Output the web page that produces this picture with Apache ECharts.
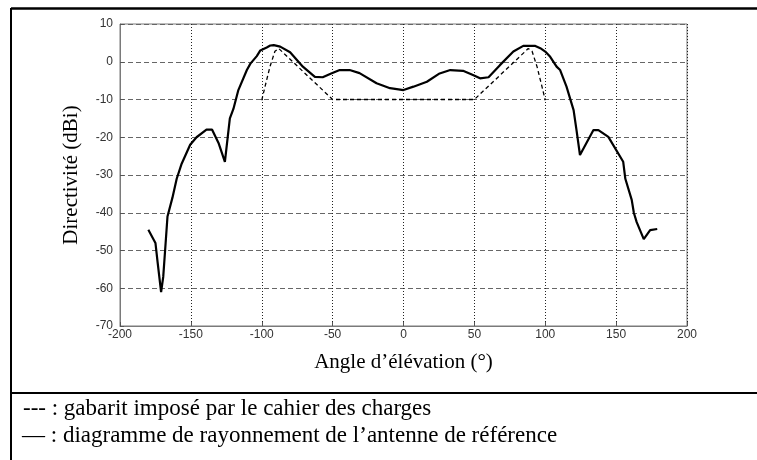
<!DOCTYPE html>
<html>
<head>
<meta charset="utf-8">
<script src="https://cdn.jsdelivr.net/npm/echarts@6/dist/echarts.min.js"></script>
<style>
  html, body { margin: 0; padding: 0; background: #fff; }
  #chart { width: 757px; height: 460px; }
</style>
</head>
<body>
<div id="chart"></div>
<script>
// diagramme de rayonnement (trait plein)
var angles = [-180, -175, -173.5, -171, -169.5, -168, -166.5, -163, -160, -156.5, -150.5, -146, -139, -135,
  -130.5, -126, -122.5, -120, -116.5, -110.5, -108, -103.5, -101, -96.5, -94, -91.5, -87, -80, -71,
  -62.5, -57, -51, -45, -38, -31, -19, -9.5, 0, 7, 16.5, 25.5, 33, 42, 49, 54, 60, 68, 77.5, 84.5,
  93, 96.5, 100, 103.5, 108, 110.5, 115, 120, 122, 124.5, 134, 137.5, 144.5, 155, 156.5, 161, 162.5,
  164.5, 169.5, 174, 179]
var directivite = [-44.5, -48, -53, -61, -57, -49, -41, -36, -31, -27, -22, -20, -18, -18,
  -21.5, -26.5, -15, -12.5, -7.5, -2.2, -0.5, 1.5, 3, 3.8, 4.3, 4.4, 4.0, 2.5, -1.3,
  -4.0, -4.1, -3.1, -2.2, -2.2, -3.0, -5.7, -7.0, -7.5, -6.6, -5.3, -3.1, -2.2, -2.4, -3.5, -4.4, -4.1, -0.9, 2.7, 4.2,
  4.2, 3.6, 2.7, 1.3, -1.3, -2.2, -6.6, -12.8, -18, -24.7, -18.1, -18.1, -19.9, -26.5, -31, -36.6, -40,
  -42.5, -47, -44.6, -44.3]

// gabarit impose (tirets)
var gabaritAngles = [-100, -97.7, -94.2, -90.7, -88, -50, 50, 88, 90.7, 94.2, 97.7, 100]
var gabaritValues = [-10.2, -6.6, -1.3, 2.8, 3.5, -10, -10, 3.5, 2.8, -1.3, -6.6, -10.2]

var xTicks = { min: -200, max: 200, interval: 50 }
var yTicks = { min: -70, max: 10, interval: 10 }

function pairs(xs, ys) {
  return xs.map(function(x, i) { return [x, ys[i]] })
}

var chart = echarts.init(document.getElementById('chart'))
chart.setOption({
  animation: false,
  backgroundColor: '#fff',
  grid: {
    left: 120,
    top: 24,
    right: 70,
    bottom: 134,
    show: true,
    borderColor: '#7a7a7a',
    borderWidth: 1
  },
  xAxis: {
    type: 'value',
    min: xTicks.min,
    max: xTicks.max,
    interval: xTicks.interval,
    name: 'Angle d\u2019\u00e9l\u00e9vation (\u00b0)',
    nameLocation: 'middle',
    nameGap: 26,
    nameTextStyle: { fontFamily: 'Liberation Serif', fontSize: 21, color: '#000' },
    axisLine: { onZero: false, lineStyle: { color: '#7a7a7a', width: 1 } },
    axisTick: { inside: true, length: 4, lineStyle: { color: '#555' } },
    axisLabel: { fontFamily: 'Liberation Sans', fontSize: 12, color: '#333', margin: 3 },
    splitLine: { show: true, lineStyle: { color: '#222', type: [1, 2], width: 1 } }
  },
  yAxis: {
    type: 'value',
    min: yTicks.min,
    max: yTicks.max,
    interval: yTicks.interval,
    name: 'Directivit\u00e9 (dBi)',
    nameLocation: 'middle',
    nameGap: 38,
    nameTextStyle: { fontFamily: 'Liberation Serif', fontSize: 21, color: '#000' },
    axisLine: { onZero: false, lineStyle: { color: '#7a7a7a', width: 1 } },
    axisTick: { show: true, inside: true, length: 4, lineStyle: { color: '#555' } },
    axisLabel: { fontFamily: 'Liberation Sans', fontSize: 12, color: '#333', margin: 7 },
    splitLine: { show: true, lineStyle: { color: '#666', type: [5, 3], width: 1 } }
  },
  series: [
    {
      name: 'gabarit',
      type: 'line',
      data: pairs(gabaritAngles, gabaritValues),
      symbol: 'none',
      lineStyle: { color: '#000', width: 1.3, type: [4, 3] },
      z: 2
    },
    {
      name: 'diagramme',
      type: 'line',
      data: pairs(angles, directivite),
      symbol: 'none',
      lineStyle: { color: '#000', width: 2.2 },
      z: 3
    }
  ],
  graphic: [
    { type: 'line', shape: { x1: 11, y1: 8.5, x2: 757, y2: 8.5 }, style: { stroke: '#000', lineWidth: 2.5 } },
    { type: 'line', shape: { x1: 11, y1: 8, x2: 11, y2: 460 }, style: { stroke: '#000', lineWidth: 2 } },
    { type: 'line', shape: { x1: 11, y1: 393, x2: 757, y2: 393 }, style: { stroke: '#000', lineWidth: 2 } },
    { type: 'text', left: 23, top: 397, style: { text: '--- : gabarit impos\u00e9 par le cahier des charges', font: '23px "Liberation Serif"', fill: '#000' } },
    { type: 'text', left: 22, top: 424, style: { text: '\u2014 : diagramme de rayonnement de l\u2019antenne de r\u00e9f\u00e9rence', font: '23px "Liberation Serif"', fill: '#000' } }
  ]
})
</script>
</body>
</html>
